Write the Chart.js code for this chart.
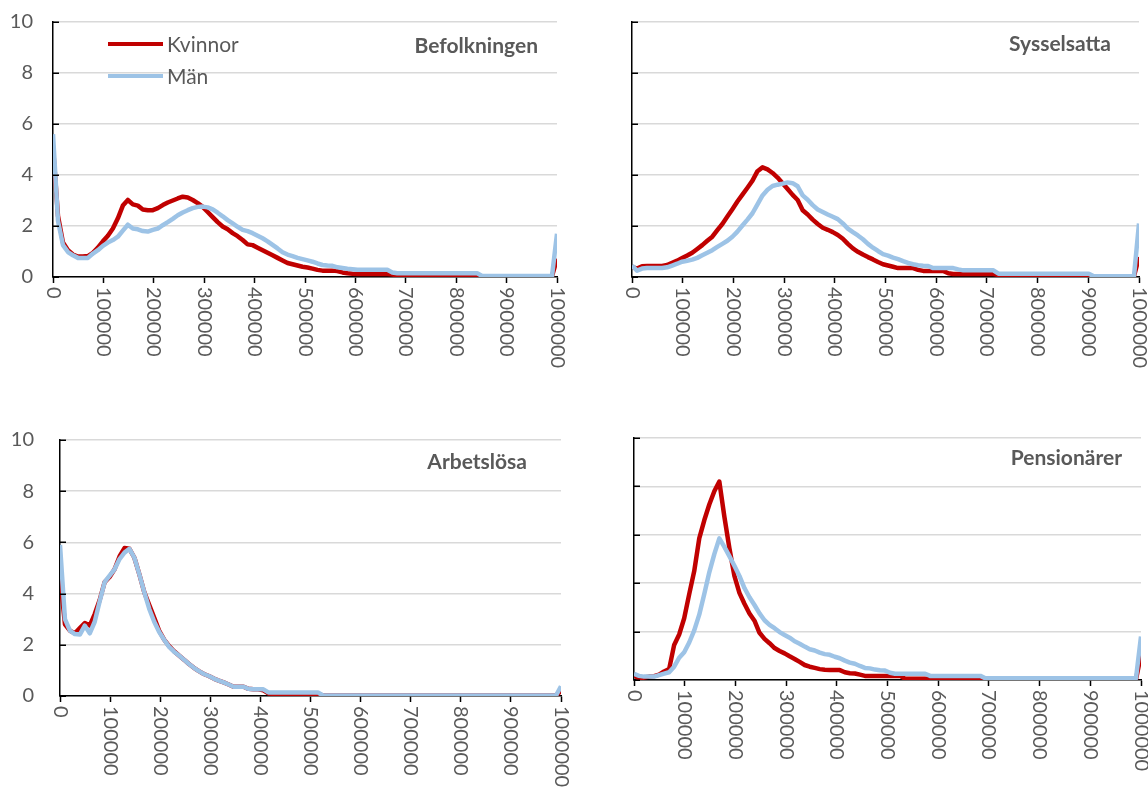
<!DOCTYPE html>
<html><head><meta charset="utf-8">
<script src="https://cdn.jsdelivr.net/npm/chart.js@4.4.1/dist/chart.umd.min.js"></script>
<style>
body{margin:0;background:#fff;width:1148px;height:791px;overflow:hidden;position:relative;font-family:Lato,sans-serif;}
canvas{position:absolute;}
.title{position:absolute;font-weight:bold;font-size:21px;line-height:24px;color:#595959;white-space:nowrap;font-family:Lato,sans-serif;}
.legtxt{position:absolute;font-size:21px;line-height:24px;color:#595959;white-space:nowrap;font-family:Lato,sans-serif;}
.legline{position:absolute;height:4px;width:55px;}
</style></head><body>
<canvas id="c1" width="574" height="415" style="left:0;top:-20px"></canvas>
<canvas id="c2" width="574" height="395" style="left:574px;top:0"></canvas>
<canvas id="c3" width="574" height="396" style="left:0;top:395px"></canvas>
<canvas id="c4" width="574" height="396" style="left:574px;top:395px"></canvas>

<div class="legline" style="left:108px;top:42px;background:#C00000"></div>
<div class="legtxt" style="left:167px;top:32px">Kvinnor</div>
<div class="legline" style="left:108px;top:74px;background:#9DC3E6"></div>
<div class="legtxt" style="left:167px;top:64px">Män</div>

<div class="title" style="right:610px;top:33px">Befolkningen</div>
<div class="title" style="right:37px;top:31px">Sysselsatta</div>
<div class="title" style="right:621px;top:449px">Arbetslösa</div>
<div class="title" style="right:26px;top:445px">Pensionärer</div>

<script>
// Income categories (kr); last bucket = above 1 000 000
const incomes = [0,10000,20000,30000,40000,50000,60000,70000,80000,90000,
100000,110000,120000,130000,140000,150000,160000,170000,180000,190000,
200000,210000,220000,230000,240000,250000,260000,270000,280000,290000,
300000,310000,320000,330000,340000,350000,360000,370000,380000,390000,
400000,410000,420000,430000,440000,450000,460000,470000,480000,490000,
500000,510000,520000,530000,540000,550000,560000,570000,580000,590000,
600000,610000,620000,630000,640000,650000,660000,670000,680000,690000,
700000,710000,720000,730000,740000,750000,760000,770000,780000,790000,
800000,810000,820000,830000,840000,850000,860000,870000,880000,890000,
900000,910000,920000,930000,940000,950000,960000,970000,980000,990000,
1000000,1010000];

const xTickLabels = ['0','100000','200000','300000','400000','500000','600000','700000','800000','900000','1000000'];
const yTicks = [0,2,4,6,8,10];

const befKvinnor = [5.1,2.4,1.35,1.05,0.88,0.8,0.8,0.82,0.95,1.15,
1.4,1.62,1.9,2.3,2.8,3.02,2.85,2.8,2.65,2.62,
2.62,2.7,2.82,2.92,3.0,3.08,3.15,3.12,3.02,2.9,
2.75,2.55,2.35,2.15,1.98,1.87,1.72,1.6,1.45,1.28,
1.25,1.15,1.05,0.95,0.85,0.75,0.65,0.55,0.5,0.45,
0.4,0.37,0.33,0.28,0.25,0.25,0.25,0.23,0.18,0.15,
0.13,0.12,0.12,0.12,0.12,0.12,0.12,0.12,0.1,0.06,
0.04,0.04,0.04,0.04,0.04,0.04,0.04,0.04,0.04,0.04,
0.04,0.04,0.04,0.04,0.04,0.04,0.03,0.03,0.03,0.03,
0.03,0.03,0.03,0.03,0.03,0.03,0.03,0.03,0.03,0.03,
0.03,0.72];
const befMan = [5.6,2.2,1.25,0.98,0.85,0.75,0.75,0.75,0.92,1.05,
1.22,1.35,1.45,1.58,1.82,2.05,1.9,1.87,1.8,1.78,
1.85,1.9,2.03,2.15,2.28,2.42,2.53,2.62,2.7,2.75,
2.76,2.73,2.65,2.52,2.38,2.23,2.1,1.97,1.85,1.8,
1.72,1.62,1.52,1.4,1.26,1.12,0.97,0.88,0.82,0.75,
0.7,0.65,0.6,0.53,0.47,0.45,0.44,0.38,0.35,0.32,
0.3,0.28,0.28,0.28,0.28,0.28,0.28,0.28,0.18,0.15,
0.15,0.15,0.15,0.15,0.15,0.15,0.15,0.15,0.15,0.15,
0.15,0.15,0.15,0.15,0.15,0.15,0.04,0.04,0.04,0.04,
0.04,0.04,0.04,0.04,0.04,0.04,0.04,0.04,0.04,0.04,
0.04,1.7];

const sysKvinnor = [0.4,0.33,0.42,0.43,0.43,0.43,0.43,0.47,0.56,0.64,
0.74,0.84,0.95,1.1,1.25,1.42,1.58,1.84,2.08,2.37,
2.66,2.96,3.23,3.5,3.78,4.15,4.3,4.22,4.08,3.9,
3.68,3.45,3.22,3.02,2.62,2.45,2.25,2.08,1.93,1.85,
1.76,1.65,1.5,1.3,1.12,0.99,0.88,0.78,0.69,0.59,
0.5,0.45,0.4,0.35,0.35,0.35,0.35,0.28,0.24,0.24,
0.24,0.24,0.24,0.15,0.12,0.12,0.12,0.12,0.12,0.12,
0.12,0.12,0.12,0.08,0.04,0.03,0.03,0.03,0.03,0.03,
0.03,0.03,0.03,0.03,0.03,0.03,0.03,0.03,0.03,0.03,
0.03,0.03,0.03,0.03,0.03,0.03,0.03,0.03,0.03,0.03,
0.03,0.78];
const sysMan = [0.45,0.25,0.33,0.35,0.35,0.35,0.35,0.38,0.45,0.52,
0.6,0.64,0.68,0.75,0.85,0.95,1.05,1.18,1.3,1.42,
1.58,1.78,2.02,2.25,2.5,2.85,3.2,3.42,3.57,3.62,
3.66,3.71,3.68,3.56,3.2,3.03,2.82,2.65,2.55,2.45,
2.36,2.27,2.1,1.9,1.76,1.63,1.48,1.3,1.15,1.02,
0.9,0.84,0.76,0.7,0.62,0.55,0.5,0.46,0.44,0.43,
0.35,0.35,0.35,0.35,0.35,0.3,0.26,0.26,0.26,0.26,
0.26,0.26,0.26,0.13,0.13,0.13,0.13,0.13,0.13,0.13,
0.13,0.13,0.13,0.13,0.13,0.13,0.13,0.13,0.13,0.13,
0.13,0.13,0.03,0.03,0.03,0.03,0.03,0.03,0.03,0.03,
0.03,2.1];

const arbKvinnor = [4.7,2.8,2.55,2.45,2.65,2.85,2.75,3.2,3.75,4.45,
4.65,4.95,5.45,5.78,5.75,5.4,4.75,4.05,3.55,3.05,
2.55,2.2,1.95,1.75,1.58,1.42,1.25,1.1,0.97,0.86,
0.78,0.68,0.6,0.53,0.45,0.36,0.36,0.36,0.28,0.26,
0.26,0.22,0.1,0.08,0.08,0.08,0.08,0.08,0.08,0.08,
0.08,0.08,0.08,0.02,0.02,0.02,0.02,0.02,0.02,0.02,
0.02,0.02,0.02,0.02,0.02,0.02,0.02,0.02,0.02,0.02,
0.02,0.02,0.02,0.02,0.02,0.02,0.02,0.02,0.02,0.02,
0.02,0.02,0.02,0.02,0.02,0.02,0.02,0.02,0.02,0.02,
0.02,0.02,0.02,0.02,0.02,0.02,0.02,0.02,0.02,0.02,
0.02,0.2];
const arbMan = [5.9,3.0,2.55,2.42,2.4,2.75,2.45,2.9,3.7,4.45,
4.7,4.95,5.35,5.6,5.75,5.4,4.75,4.05,3.4,2.9,
2.5,2.2,1.92,1.73,1.58,1.42,1.25,1.1,0.97,0.86,
0.78,0.68,0.6,0.53,0.45,0.36,0.36,0.36,0.28,0.26,
0.26,0.26,0.14,0.14,0.14,0.14,0.14,0.14,0.14,0.14,
0.14,0.14,0.14,0.02,0.02,0.02,0.02,0.02,0.02,0.02,
0.02,0.02,0.02,0.02,0.02,0.02,0.02,0.02,0.02,0.02,
0.02,0.02,0.02,0.02,0.02,0.02,0.02,0.02,0.02,0.02,
0.02,0.02,0.02,0.02,0.02,0.02,0.02,0.02,0.02,0.02,
0.02,0.02,0.02,0.02,0.02,0.02,0.02,0.02,0.02,0.02,
0.02,0.38];

const penKvinnor = [0.2,0.05,0.1,0.14,0.16,0.22,0.35,0.45,1.45,1.88,
2.55,3.55,4.5,5.85,6.6,7.25,7.8,8.2,6.75,5.45,
4.3,3.6,3.15,2.75,2.45,1.95,1.7,1.52,1.32,1.2,
1.1,0.98,0.87,0.75,0.62,0.55,0.5,0.45,0.42,0.41,
0.41,0.41,0.32,0.28,0.27,0.22,0.17,0.17,0.17,0.17,
0.17,0.17,0.17,0.17,0.05,0.05,0.05,0.05,0.05,0.05,
0.05,0.05,0.05,0.05,0.05,0.05,0.05,0.05,0.05,0.05,
0.02,0.02,0.02,0.02,0.02,0.02,0.02,0.02,0.02,0.02,
0.02,0.02,0.02,0.02,0.02,0.02,0.02,0.02,0.02,0.02,
0.02,0.02,0.02,0.02,0.02,0.02,0.02,0.02,0.02,0.02,
0.02,1.05];
const penMan = [0.25,0.17,0.14,0.14,0.14,0.2,0.26,0.32,0.55,0.92,
1.15,1.55,2.05,2.7,3.55,4.45,5.2,5.85,5.5,5.12,
4.72,4.3,3.8,3.42,3.1,2.75,2.47,2.28,2.14,1.98,
1.86,1.75,1.6,1.5,1.38,1.27,1.22,1.13,1.07,1.04,
0.96,0.9,0.8,0.72,0.67,0.58,0.5,0.48,0.43,0.4,
0.39,0.3,0.26,0.26,0.26,0.26,0.26,0.26,0.26,0.17,
0.17,0.17,0.17,0.17,0.17,0.17,0.17,0.17,0.17,0.17,
0.07,0.07,0.07,0.07,0.07,0.07,0.07,0.07,0.07,0.07,
0.07,0.07,0.07,0.07,0.07,0.07,0.07,0.07,0.07,0.07,
0.07,0.07,0.07,0.07,0.07,0.07,0.07,0.07,0.07,0.07,
0.07,1.8];

const axisExtras = {
  id: 'axisExtras',
  afterDraw(chart) {
    const ctx = chart.ctx, xs = chart.scales.x, ys = chart.scales.y, a = chart.chartArea;
    ctx.save();
    ctx.strokeStyle = '#000';
    ctx.lineWidth = 1.5;
    ys.ticks.forEach(t => {
      const py = Math.round(ys.getPixelForValue(t.value)) + 0.25;
      ctx.beginPath(); ctx.moveTo(a.left, py); ctx.lineTo(a.left + 6, py); ctx.stroke();
    });
    ctx.fillStyle = '#595959';
    ctx.font = '20px Lato';
    ctx.textAlign = 'left';
    ctx.textBaseline = 'middle';
    xs.ticks.forEach((t, i) => {
      const px = xs.getPixelForValue(t.value);
      ctx.save();
      ctx.translate(px, a.bottom + 10);
      ctx.rotate(Math.PI / 2);
      ctx.fillText(xTickLabels[i], 0, 0);
      ctx.restore();
    });
    ctx.restore();
  }
};

function makeChart(id, red, blue, o) {
  new Chart(document.getElementById(id), {
    type: 'line',
    data: {
      datasets: [
        { label: 'Kvinnor', data: incomes.map((x, i) => ({x: x, y: red[i]})), borderColor: '#C00000',
          borderWidth: 4.5, pointRadius: 0, tension: 0, order: 1, borderJoinStyle: 'round' },
        { label: 'Män', data: incomes.map((x, i) => ({x: x, y: blue[i]})), borderColor: '#9DC3E6',
          borderWidth: 4.5, pointRadius: 0, tension: 0, order: 0, borderJoinStyle: 'round' }
      ]
    },
    options: {
      responsive: false, animation: false, devicePixelRatio: 1,
      layout: { padding: { left: 0, right: o.pr, top: o.pt, bottom: 0 } },
      plugins: { legend: { display: false }, tooltip: { enabled: false } },
      scales: {
        x: {
          type: 'linear', min: 0, max: 1010000, bounds: 'data',
          ticks: { stepSize: 100000, includeBounds: false, display: false, autoSkip: false },
          grid: { drawOnChartArea: false, drawTicks: true, tickLength: 6, tickColor: '#000', tickWidth: 1.5 },
          border: { color: '#000', width: 1.5 },
          afterFit: s => { s.height = o.h; }
        },
        y: {
          min: 0, max: 10,
          afterBuildTicks: s => { s.ticks = yTicks.map(v => ({value: v})); },
          ticks: { display: o.yLabels, padding: o.yPad, color: '#595959', font: { family: 'Lato', size: 20 } },
          grid: { color: '#d9d9d9', lineWidth: 1.5, drawTicks: false },
          border: { color: '#000', width: 1.5 },
          afterFit: s => { s.width = o.w; }
        }
      }
    },
    plugins: [axisExtras]
  });
}

makeChart('c1', befKvinnor, befMan, { w: 53, pt: 42, pr: 17, h: 118, yLabels: true, yPad: 20 });
makeChart('c2', sysKvinnor, sysMan, { w: 58, pt: 22, pr: 9, h: 118, yLabels: false, yPad: 0 });
makeChart('c3', arbKvinnor, arbMan, { w: 60, pt: 45, pr: 13, h: 95, yLabels: true, yPad: 26 });
makeChart('c4', penKvinnor, penMan, { w: 60, pt: 43, pr: 7, h: 111, yLabels: false, yPad: 0 });
</script>
</body></html>
